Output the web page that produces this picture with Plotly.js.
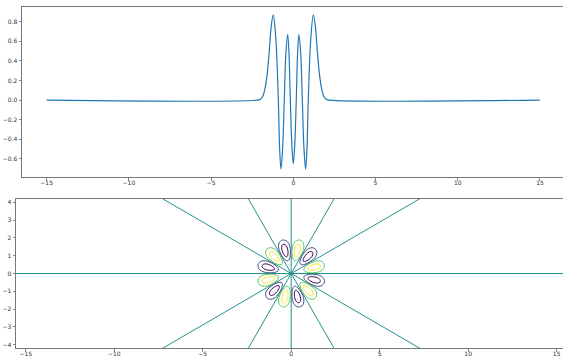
<!DOCTYPE html>
<html>
<head>
<meta charset="utf-8">
<script src="https://cdn.plot.ly/plotly-3.0.1.min.js"></script>
<style>
html,body{margin:0;padding:0;overflow:hidden;background:#fff;}
#chart{width:570px;height:357px;}
</style>
</head>
<body>
<div id="chart"></div>
<script>
// ---- top panel: 1-D curve ----
const curveX = [-15, -2.2, -2.0, -1.85, -1.72, -1.6, -1.48, -1.35, -1.22, -1.06, -0.91, -0.83, -0.75, -0.65, -0.55, -0.45, -0.34, -0.26, -0.18, -0.09, 0,
                0.09, 0.18, 0.26, 0.34, 0.45, 0.55, 0.65, 0.75, 0.83, 0.91, 1.06, 1.22, 1.35, 1.48, 1.6, 1.72, 1.85, 2.0, 2.2, 15];
const curveY = [0, 0, 0.01, 0.04, 0.12, 0.25, 0.46, 0.74, 0.87, 0.62, 0, -0.5, -0.705, -0.5, 0, 0.48, 0.67, 0.47, 0, -0.45, -0.65,
                -0.45, 0, 0.47, 0.67, 0.48, 0, -0.5, -0.705, -0.5, 0, 0.62, 0.87, 0.74, 0.46, 0.25, 0.12, 0.04, 0.01, 0, 0];
const topXTicks = [-15, -10, -5, 0, 5, 10, 15];
const topYTicks = [-0.6, -0.4, -0.2, 0.0, 0.2, 0.4, 0.6, 0.8];

// ---- bottom panel: contour lines (polar form) ----
// zero-level contour lines through the origin (angles in degrees)
const zeroLineAngles = [0, 30, 60, 90, 120, 150];
// lobe axis angles (degrees)
const negativeLobeAngles = [45, 105, 165, 225, 285, 345];
const positiveLobeAngles = [15, 75, 135, 195, 255, 315];
// outer contour of a lobe: radius and half-angle (deg) from the lobe axis
const outerR    = [0.74, 0.8, 0.9, 1.0, 1.1, 1.2, 1.3, 1.4, 1.5, 1.6, 1.7, 1.8, 1.87, 1.92, 1.94];
const outerHalf = [0,    7,   10.5, 12, 12.8, 13, 13, 12.7, 12.2, 11.3, 10, 8,   5.8,  3,    0];
// inner contour of a lobe
const innerR    = [0.97, 1.0, 1.1, 1.2, 1.3, 1.4, 1.5, 1.6, 1.66, 1.7];
const innerHalf = [0,    3,   5.5, 6.5, 6.8, 6.6, 6,   4.5, 3,    0];
const levelColors = {neg2: '#440154', neg1: '#3b528b', zero: '#21918c', pos1: '#5ec962', pos2: '#fde725'};
const botXTicks = [-15, -10, -5, 0, 5, 10, 15];
const botYTicks = [-4, -3, -2, -1, 0, 1, 2, 3, 4];

const deg = Math.PI / 180;
function loop(axisDeg, rs, halves) {
  const xs = [], ys = [];
  for (let i = 0; i < rs.length; i++) {
    const t = (axisDeg + halves[i]) * deg;
    xs.push(rs[i] * Math.cos(t)); ys.push(rs[i] * Math.sin(t));
  }
  for (let i = rs.length - 2; i >= 0; i--) {
    const t = (axisDeg - halves[i]) * deg;
    xs.push(rs[i] * Math.cos(t)); ys.push(rs[i] * Math.sin(t));
  }
  return {xs, ys};
}

const traces = [];
traces.push({x: curveX, y: curveY, type: 'scatter', mode: 'lines',
  line: {color: '#1f77b4', width: 1.2, shape: 'spline', smoothing: 1},
  xaxis: 'x', yaxis: 'y', hoverinfo: 'skip'});

const R = 30;
zeroLineAngles.forEach(a => {
  traces.push({x: [-R * Math.cos(a * deg), R * Math.cos(a * deg)],
               y: [-R * Math.sin(a * deg), R * Math.sin(a * deg)],
               type: 'scatter', mode: 'lines', line: {color: levelColors.zero, width: 1},
               xaxis: 'x2', yaxis: 'y2', hoverinfo: 'skip'});
});
function addLobes(angles, outerColor, innerColor) {
  angles.forEach(a => {
    const o = loop(a, outerR, outerHalf);
    traces.push({x: o.xs, y: o.ys, type: 'scatter', mode: 'lines',
      line: {color: outerColor, width: 1, shape: 'spline', smoothing: 1}, xaxis: 'x2', yaxis: 'y2', hoverinfo: 'skip'});
    const n = loop(a, innerR, innerHalf);
    traces.push({x: n.xs, y: n.ys, type: 'scatter', mode: 'lines',
      line: {color: innerColor, width: 1, shape: 'spline', smoothing: 1}, xaxis: 'x2', yaxis: 'y2', hoverinfo: 'skip'});
  });
}
addLobes(negativeLobeAngles, levelColors.neg1, levelColors.neg2);
addLobes(positiveLobeAngles, levelColors.pos1, levelColors.pos2);

const W = 570, H = 357;
const fmtInt = v => v < 0 ? '\u2212' + Math.abs(v) : String(v);
const axBase = {
  showgrid: false, zeroline: false, showline: true, mirror: true,
  linecolor: '#777', linewidth: 1, ticks: 'outside', ticklen: 2.5, tickwidth: 0.8, tickcolor: '#666',
  tickfont: {family: 'DejaVu Sans', size: 6, color: '#333'}, automargin: false, fixedrange: true
};
const layout = {
  width: W, height: H, margin: {l: 0, r: 0, t: 0, b: 0},
  paper_bgcolor: '#fff', plot_bgcolor: '#fff', showlegend: false,
  xaxis: Object.assign({}, axBase, {domain: [22 / W, 564.6 / W], range: [-16.5, 16.5], ticklabelstandoff: -3,
    tickmode: 'array', tickvals: topXTicks, ticktext: topXTicks.map(fmtInt), anchor: 'y'}),
  yaxis: Object.assign({}, axBase, {domain: [1 - 177 / H, 1 - 7.3 / H], range: [-0.785, 0.948],
    tickmode: 'array', tickvals: topYTicks, ticktext: topYTicks.map(v => (v < 0 ? '\u2212' : '') + Math.abs(v).toFixed(1)), anchor: 'x'}),
  xaxis2: Object.assign({}, axBase, {domain: [16 / W, 566.4 / W], range: [-15.55, 15.55], ticklabelstandoff: -3,
    tickmode: 'array', tickvals: botXTicks, ticktext: botXTicks.map(fmtInt), anchor: 'y2'}),
  yaxis2: Object.assign({}, axBase, {domain: [1 - 348 / H, 1 - 199 / H], range: [-4.18, 4.18],
    tickmode: 'array', tickvals: botYTicks, ticktext: botYTicks.map(fmtInt), anchor: 'x2'})
};
Plotly.newPlot('chart', traces, layout, {displayModeBar: false, staticPlot: true});
</script>
</body>
</html>
